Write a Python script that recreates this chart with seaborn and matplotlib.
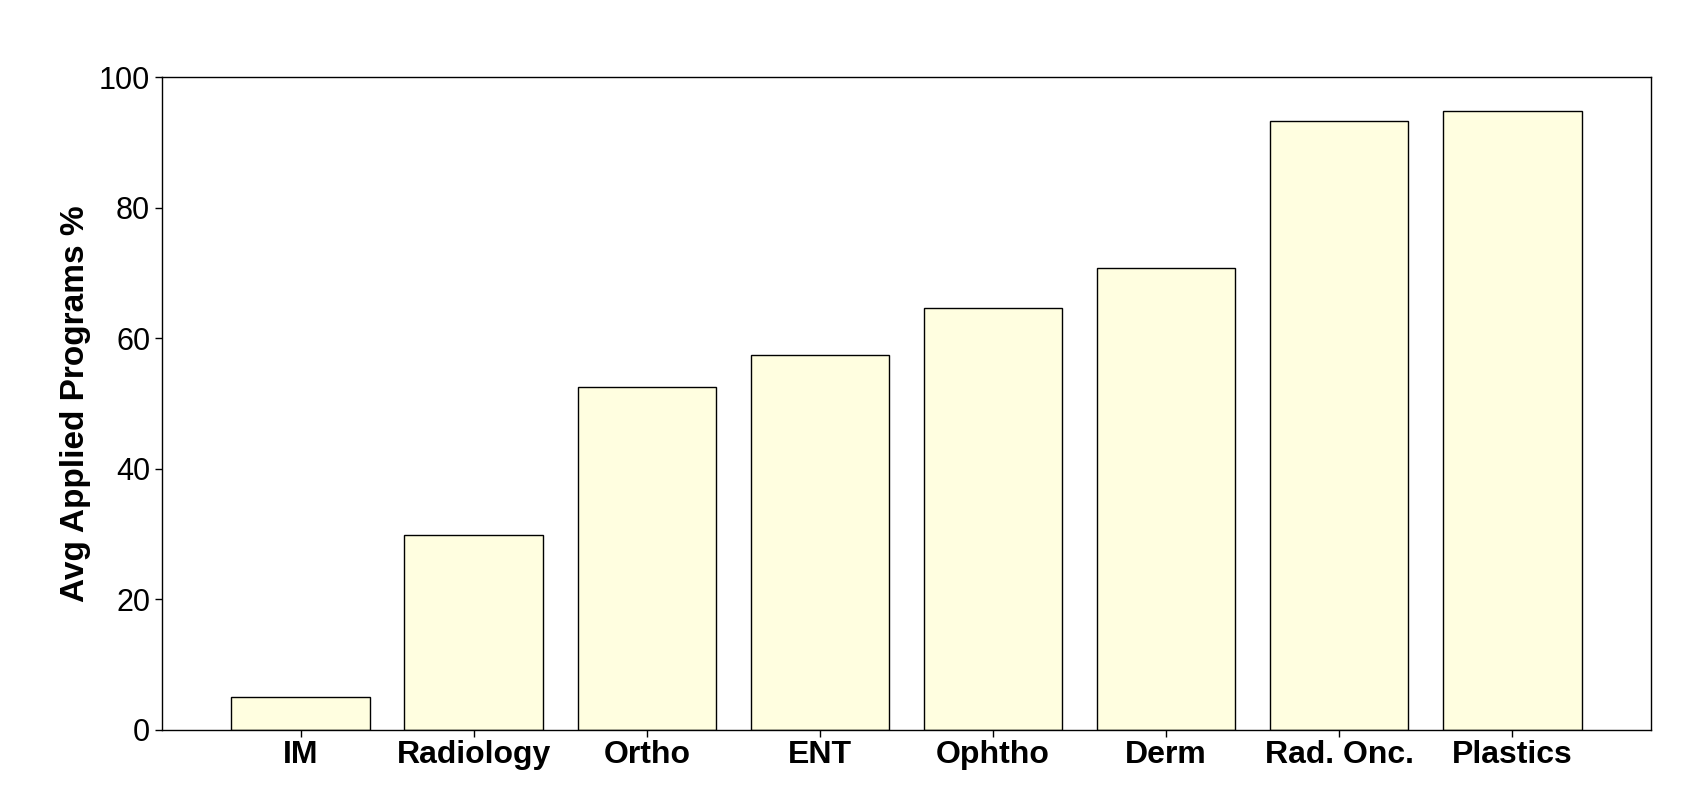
import pandas as pd
import matplotlib
matplotlib.use("Agg")
import matplotlib.pyplot as plt
import seaborn as sns

specialties = ['IM', 'Radiology', 'Ortho', 'ENT', 'Ophtho', 'Derm', 'Rad. Onc.', 'Plastics']
avg_applied = [5.0, 29.9, 52.5, 57.4, 64.6, 70.8, 93.3, 94.9]

df = pd.DataFrame({'specialty': specialties, 'pct': avg_applied})

sns.set_style('white')
plt.rcParams['font.family'] = ['Liberation Sans', 'DejaVu Sans']
plt.rcParams['text.color'] = 'black'
plt.rcParams['axes.labelcolor'] = 'black'
plt.rcParams['xtick.color'] = 'black'
plt.rcParams['ytick.color'] = 'black'

fig = plt.figure(figsize=(16.88, 7.9), dpi=100)
ax = fig.add_axes([0.096, 0.076, 0.882, 0.826])

sns.barplot(data=df, x='specialty', y='pct', color='#FFFEE0', saturation=1,
            edgecolor='black', linewidth=1.0, width=0.8, ax=ax)

ax.set_xlim(-0.8, 7.8)
ax.set_ylim(0, 100)
ax.set_xlabel('')
ax.set_ylabel('Avg Applied Programs %', fontsize=24, fontweight='bold', labelpad=6)
ax.tick_params(axis='y', labelsize=22, length=5, width=1, direction='out', left=True)
ax.tick_params(axis='x', labelsize=23, length=5, width=1, direction='out', bottom=True, pad=2)
for lbl in ax.get_xticklabels():
    lbl.set_fontweight('bold')
for s in ax.spines.values():
    s.set_color('black')
    s.set_linewidth(1.0)

fig.savefig('out.png', dpi=100)
